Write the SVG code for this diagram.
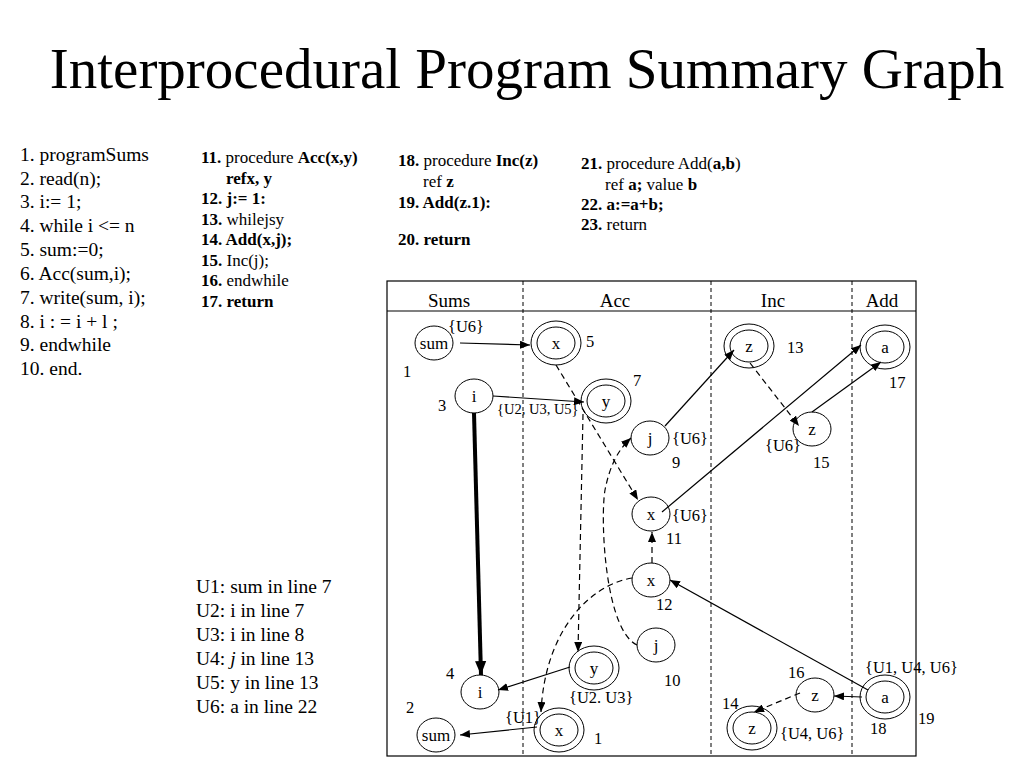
<svg xmlns="http://www.w3.org/2000/svg" width="1024" height="768" viewBox="0 0 1024 768">
<defs>
<style>
text{font-family:"Liberation Serif","Times New Roman",serif;fill:#000}
.code{font-size:19.5px}
.c2{font-size:17px}
.b{font-weight:bold}
.hdr{font-size:19px;text-anchor:middle}
.nl{font-size:17px;text-anchor:middle}
.lb{font-size:16.5px}
.sm{font-size:14.5px}
.n{fill:#fff;stroke:#000;stroke-width:1}
.e{fill:none;stroke:#000;stroke-width:1.2}
.d{fill:none;stroke:#000;stroke-width:1.2;stroke-dasharray:6,4}
.sep{stroke:#000;stroke-width:1;stroke-dasharray:4,3}
</style>
<marker id="ah" viewBox="0 0 10 8" refX="10" refY="4" markerWidth="10" markerHeight="8" markerUnits="userSpaceOnUse" orient="auto"><path d="M0,0 L10,4 L0,8 Z" fill="#000"/></marker>
<marker id="ahb" viewBox="0 0 10 8" refX="10" refY="4" markerWidth="14" markerHeight="12" markerUnits="userSpaceOnUse" orient="auto"><path d="M0,0 L10,4 L0,8 Z" fill="#000"/></marker>
</defs>
<rect width="1024" height="768" fill="#fff"/>
<text x="527" y="88" font-size="57" text-anchor="middle">Interprocedural Program Summary Graph</text>

<g id="code-main" class="code">
<text x="20" y="161">1. programSums</text>
<text x="20" y="185">2. read(n);</text>
<text x="20" y="208">3. i:= 1;</text>
<text x="20" y="232">4. while i &lt;= n</text>
<text x="20" y="256">5. sum:=0;</text>
<text x="20" y="280">6. Acc(sum,i);</text>
<text x="20" y="304">7. write(sum, i);</text>
<text x="20" y="328">8. i : = i + l ;</text>
<text x="20" y="351">9. endwhile</text>
<text x="20" y="375">10. end.</text>
</g>
<g id="code-acc" class="c2">
<text x="201" y="163"><tspan class="b">11.</tspan> procedure <tspan class="b">Acc(x,y)</tspan></text>
<text x="226" y="184" class="b">refx, y</text>
<text x="201" y="204" class="b">12. j:= 1:</text>
<text x="201" y="225"><tspan class="b">13.</tspan> whilejsy</text>
<text x="201" y="245" class="b">14. Add(x,j);</text>
<text x="201" y="266"><tspan class="b">15.</tspan> Inc(j);</text>
<text x="201" y="286"><tspan class="b">16.</tspan> endwhile</text>
<text x="201" y="307" class="b">17. return</text>
</g>
<g id="code-inc" class="c2">
<text x="398" y="166"><tspan class="b">18.</tspan> procedure <tspan class="b">Inc(z)</tspan></text>
<text x="423" y="187">ref <tspan class="b">z</tspan></text>
<text x="398" y="208" class="b">19. Add(z.1):</text>
<text x="398" y="245" class="b">20. return</text>
</g>
<g id="code-add" class="c2">
<text x="581" y="169"><tspan class="b">21.</tspan> procedure Add(<tspan class="b">a,b</tspan>)</text>
<text x="605" y="190">ref <tspan class="b">a;</tspan> value <tspan class="b">b</tspan></text>
<text x="581" y="210" class="b">22. a:=a+b;</text>
<text x="581" y="230"><tspan class="b">23.</tspan> return</text>
</g>
<g id="legend" class="code">
<text x="196" y="593">U1: sum in line 7</text>
<text x="196" y="617">U2: i in line 7</text>
<text x="196" y="641">U3: i in line 8</text>
<text x="196" y="665">U4: <tspan font-style="italic">j</tspan> in line 13</text>
<text x="196" y="689">U5: y in line 13</text>
<text x="196" y="713">U6: a in line 22</text>
</g>

<g id="frame">
<rect x="387" y="281" width="529" height="475" fill="none" stroke="#000" stroke-width="1.2"/>
<line x1="387" y1="311" x2="916" y2="311" stroke="#000" stroke-width="1.2"/>
<line class="sep" x1="523" y1="281" x2="523" y2="756"/>
<line class="sep" x1="711" y1="281" x2="711" y2="756"/>
<line class="sep" x1="852" y1="281" x2="852" y2="756"/>
<text class="hdr" x="449" y="307">Sums</text>
<text class="hdr" x="615" y="307">Acc</text>
<text class="hdr" x="773" y="307">Inc</text>
<text class="hdr" x="882" y="307">Add</text>
</g>

<g id="n-sum1"><ellipse class="n" cx="434" cy="343" rx="19" ry="17"/><text class="nl" x="434" y="349">sum</text><text class="lb" x="403" y="377">1</text><text class="lb" x="448" y="332">{U6}</text></g>
<g id="n-x5"><ellipse class="n" cx="556" cy="343" rx="25" ry="22"/><ellipse class="n" cx="556" cy="343" rx="19" ry="16"/><text class="nl" x="556" y="349">x</text><text class="lb" x="586" y="347">5</text></g>
<g id="n-i3"><ellipse class="n" cx="474" cy="396" rx="19" ry="17"/><text class="nl" x="474" y="402">i</text><text class="lb" x="438" y="411">3</text></g>
<g id="n-y7"><ellipse class="n" cx="606" cy="401" rx="25" ry="22"/><ellipse class="n" cx="606" cy="401" rx="19" ry="16"/><text class="nl" x="606" y="407">y</text><text class="lb" x="633" y="386">7</text></g>
<g id="n-j9"><ellipse class="n" cx="650" cy="438" rx="19" ry="17"/><text class="nl" x="650" y="444">j</text><text class="lb" x="672" y="444">{U6}</text><text class="lb" x="672" y="468">9</text></g>
<g id="n-z13"><ellipse class="n" cx="749" cy="346" rx="25" ry="22"/><ellipse class="n" cx="749" cy="346" rx="19" ry="16"/><text class="nl" x="749" y="352">z</text><text class="lb" x="787" y="353">13</text></g>
<g id="n-a17"><ellipse class="n" cx="885" cy="347" rx="25" ry="22"/><ellipse class="n" cx="885" cy="347" rx="19" ry="16"/><text class="nl" x="885" y="353">a</text><text class="lb" x="889" y="388">17</text></g>
<g id="n-z15"><ellipse class="n" cx="812" cy="429" rx="19" ry="17"/><text class="nl" x="812" y="435">z</text><text class="lb" x="765" y="451">{U6}</text><text class="lb" x="813" y="468">15</text></g>
<g id="n-x11"><ellipse class="n" cx="651" cy="514" rx="19" ry="17"/><text class="nl" x="651" y="520">x</text><text class="lb" x="672" y="521">{U6}</text><text class="lb" x="666" y="544">11</text></g>
<g id="n-x12"><ellipse class="n" cx="651" cy="580" rx="19" ry="17"/><text class="nl" x="651" y="586">x</text><text class="lb" x="656" y="610">12</text></g>
<g id="n-j10"><ellipse class="n" cx="656" cy="645" rx="19" ry="17"/><text class="nl" x="656" y="651">j</text><text class="lb" x="664" y="686">10</text></g>
<g id="n-y14"><ellipse class="n" cx="594" cy="668" rx="25" ry="22"/><ellipse class="n" cx="594" cy="668" rx="19" ry="16"/><text class="nl" x="594" y="674">y</text><text class="lb" x="569" y="703">{U2. U3}</text></g>
<g id="n-i4"><ellipse class="n" cx="480" cy="692" rx="19" ry="17"/><text class="nl" x="480" y="698">i</text><text class="lb" x="446" y="679">4</text></g>
<g id="n-sum2"><ellipse class="n" cx="436" cy="735" rx="19" ry="17"/><text class="nl" x="436" y="741">sum</text><text class="lb" x="406" y="713">2</text></g>
<g id="n-x1"><ellipse class="n" cx="559" cy="730" rx="25" ry="22"/><ellipse class="n" cx="559" cy="730" rx="19" ry="16"/><text class="nl" x="559" y="736">x</text><text class="lb" x="594" y="744">1</text><text class="lb" x="505" y="723">{U1}</text></g>
<g id="n-z16"><ellipse class="n" cx="815" cy="695" rx="19" ry="17"/><text class="nl" x="815" y="701">z</text><text class="lb" x="788" y="678">16</text></g>
<g id="n-a18"><ellipse class="n" cx="885" cy="697" rx="25" ry="22"/><ellipse class="n" cx="885" cy="697" rx="19" ry="16"/><text class="nl" x="885" y="703">a</text><text class="lb" x="870" y="734">18</text><text class="lb" x="865" y="673">{U1, U4, U6}</text><text class="lb" x="918" y="724">19</text></g>
<g id="n-z14"><ellipse class="n" cx="752" cy="728" rx="25" ry="22"/><ellipse class="n" cx="752" cy="728" rx="19" ry="16"/><text class="nl" x="752" y="734">z</text><text class="lb" x="722" y="709">14</text><text class="lb" x="780" y="739">{U4, U6}</text></g>

<g id="connectors">
<line class="e" x1="460" y1="343" x2="530" y2="345" marker-end="url(#ah)"/>
<line class="e" x1="493" y1="396" x2="584" y2="402" marker-end="url(#ah)"/>
<line class="d" x1="556" y1="365" x2="638" y2="500" marker-end="url(#ah)"/>
<line class="d" x1="583" y1="414" x2="578" y2="652" marker-end="url(#ah)"/>
<path class="d" d="M637,645 C605,630 600,520 605,490 C610,465 618,450 631,438" marker-end="url(#ah)"/>
<path class="d" d="M632,578 C590,585 545,630 541,712" marker-end="url(#ah)"/>
<line class="d" x1="652" y1="563" x2="652" y2="532" marker-end="url(#ah)"/>
<line class="e" x1="665" y1="426" x2="734" y2="350" marker-end="url(#ah)"/>
<line class="e" x1="662" y1="512" x2="861" y2="345" marker-end="url(#ah)"/>
<line class="e" x1="812" y1="412" x2="881" y2="362" marker-end="url(#ah)"/>
<line class="d" x1="750" y1="363" x2="799" y2="426" marker-end="url(#ah)"/>
<line class="e" x1="868" y1="690" x2="670" y2="580" marker-end="url(#ah)"/>
<line class="e" x1="862" y1="697" x2="834" y2="696" marker-end="url(#ah)"/>
<line class="d" x1="800" y1="693" x2="754" y2="712" marker-end="url(#ah)"/>
<line class="e" x1="570" y1="667" x2="498" y2="690" marker-end="url(#ah)"/>
<line class="e" x1="537" y1="727" x2="460" y2="735" marker-end="url(#ah)"/>
<line x1="474" y1="413" x2="481" y2="675" stroke="#000" stroke-width="4" marker-end="url(#ahb)"/>
</g>
<text class="sm" x="497" y="414">{U2, U3, U5}</text>
</svg>
